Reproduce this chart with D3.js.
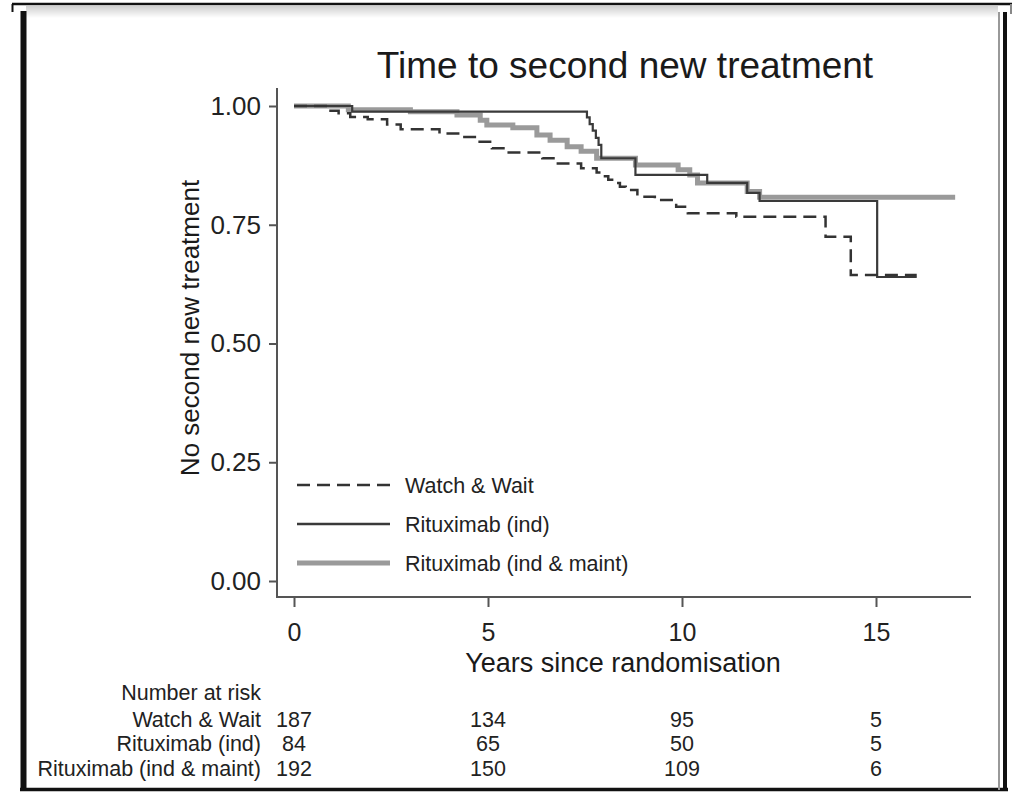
<!DOCTYPE html>
<html>
<head>
<meta charset="utf-8">
<script src="https://cdn.jsdelivr.net/npm/d3@7"></script>
<style>
  html, body { margin: 0; padding: 0; background: #fff; }
  svg { display: block; font-family: "Liberation Sans", Arial, sans-serif; }
</style>
</head>
<body>
<svg id="chart" width="1015" height="794"></svg>
<script>
// Kaplan-Meier step data (time in years, proportion without second new treatment)
const wwTime = [0, 0.9, 1.15, 1.45, 1.9, 2.4, 2.75, 3.75, 4.3, 4.75, 5.1, 5.5, 6.4, 6.8, 7.4, 7.8, 7.95, 8.1, 8.25, 8.4, 8.55, 8.85, 9.3, 9.85, 10.15, 11.4, 13.7, 14.35, 16.05];
const wwSurv = [1, 0.99, 0.985, 0.977, 0.972, 0.961, 0.951, 0.942, 0.935, 0.925, 0.911, 0.902, 0.89, 0.879, 0.869, 0.86, 0.852, 0.845, 0.838, 0.83, 0.823, 0.809, 0.802, 0.788, 0.774, 0.767, 0.725, 0.644, 0.644];

const indTime = [0, 1.5, 7.55, 7.62, 7.7, 7.78, 7.85, 7.92, 8.8, 10.65, 11.68, 12.0, 15.03, 16.05];
const indSurv = [1, 0.988, 0.976, 0.962, 0.948, 0.933, 0.918, 0.89, 0.855, 0.838, 0.817, 0.8, 0.64, 0.64];

const maintTime = [0, 1.4, 3.0, 4.2, 4.8, 4.97, 5.64, 6.26, 6.6, 7.04, 7.4, 7.8, 8.8, 9.9, 10.2, 10.4, 11.68, 12.0, 17.04];
const maintSurv = [1, 0.992, 0.988, 0.981, 0.97, 0.96, 0.954, 0.939, 0.928, 0.914, 0.905, 0.89, 0.876, 0.866, 0.855, 0.838, 0.82, 0.808, 0.808];

const groupNames = ["Watch & Wait", "Rituximab (ind)", "Rituximab (ind & maint)"];
const xTicks = [0, 5, 10, 15];
const yTicks = [0, 0.25, 0.5, 0.75, 1];
const riskTimes = [0, 5, 10, 15];
const riskWW = [187, 134, 95, 5];
const riskInd = [84, 65, 50, 5];
const riskMaint = [192, 150, 109, 6];

const svg = d3.select("#chart");

// ---- outer frame ----
const frame = svg.append("g");
const defs = svg.append("defs");
const grad = defs.append("linearGradient").attr("id", "topShade").attr("x1", 0).attr("y1", 0).attr("x2", 0).attr("y2", 1);
grad.append("stop").attr("offset", "0%").attr("stop-color", "#cfcfcf");
grad.append("stop").attr("offset", "100%").attr("stop-color", "#ffffff");
frame.append("rect").attr("x", 26).attr("y", 6).attr("width", 972).attr("height", 12).attr("fill", "url(#topShade)");
frame.append("line").attr("x1", 12).attr("x2", 1012).attr("y1", 4).attr("y2", 4).attr("stroke", "#111").attr("stroke-width", 2.5);
frame.append("line").attr("x1", 12.5).attr("x2", 12.5).attr("y1", 4).attr("y2", 12).attr("stroke", "#111").attr("stroke-width", 2);
frame.append("line").attr("x1", 1011).attr("x2", 1011).attr("y1", 4).attr("y2", 14).attr("stroke", "#888").attr("stroke-width", 2);
frame.append("line").attr("x1", 23.5).attr("x2", 23.5).attr("y1", 11).attr("y2", 791).attr("stroke", "#111").attr("stroke-width", 6);
frame.append("line").attr("x1", 20).attr("x2", 1008).attr("y1", 789.5).attr("y2", 789.5).attr("stroke", "#111").attr("stroke-width", 3.5);
frame.append("line").attr("x1", 999).attr("x2", 999).attr("y1", 12).attr("y2", 790).attr("stroke", "#999").attr("stroke-width", 2);
frame.append("line").attr("x1", 1005).attr("x2", 1005).attr("y1", 12).attr("y2", 791).attr("stroke", "#111").attr("stroke-width", 4);

// ---- scales ----
const x = d3.scaleLinear().domain([0, 15]).range([294, 876]);
const y = d3.scaleLinear().domain([0, 1]).range([581, 106]);

// ---- title ----
svg.append("text").attr("x", 625).attr("y", 78).attr("text-anchor", "middle")
  .attr("font-size", 37).attr("fill", "#1a1a1a").text("Time to second new treatment");

// ---- axes ----
const axisColor = "#555";
const yAxis = svg.append("g").attr("transform", "translate(277,0)")
  .call(d3.axisLeft(y).tickValues(yTicks).tickFormat(d3.format(".2f")).tickSize(8).tickPadding(8).tickSizeOuter(0));
yAxis.select(".domain").remove();
yAxis.selectAll(".tick line").attr("stroke", axisColor).attr("stroke-width", 2);
yAxis.selectAll(".tick text").attr("font-size", 26).attr("fill", "#222").attr("font-family", "Liberation Sans, Arial, sans-serif");

const xAxis = svg.append("g").attr("transform", "translate(0,598)")
  .call(d3.axisBottom(x).tickValues(xTicks).tickSize(9).tickPadding(16).tickSizeOuter(0));
xAxis.select(".domain").remove();
xAxis.selectAll(".tick line").attr("stroke", axisColor).attr("stroke-width", 2);
xAxis.selectAll(".tick text").attr("font-size", 25).attr("fill", "#222").attr("font-family", "Liberation Sans, Arial, sans-serif");

// axis lines (extend beyond tick range)
svg.append("line").attr("x1", 277).attr("x2", 277).attr("y1", 88).attr("y2", 598).attr("stroke", axisColor).attr("stroke-width", 2);
svg.append("line").attr("x1", 276).attr("x2", 971).attr("y1", 597).attr("y2", 597).attr("stroke", axisColor).attr("stroke-width", 2);

// axis titles
svg.append("text").attr("transform", "translate(199,328) rotate(-90)").attr("text-anchor", "middle")
  .attr("font-size", 26).attr("fill", "#1a1a1a").text("No second new treatment");
svg.append("text").attr("x", 623).attr("y", 672).attr("text-anchor", "middle")
  .attr("font-size", 27).attr("fill", "#1a1a1a").text("Years since randomisation");

// ---- survival curves ----
const styles = [
  { color: "#333", width: 2.5, dash: "13,7" },
  { color: "#3a3a3a", width: 2.2, dash: null },
  { color: "#9a9a9a", width: 5, dash: null }
];
const series = [
  { t: wwTime, s: wwSurv, style: styles[0] },
  { t: indTime, s: indSurv, style: styles[1] },
  { t: maintTime, s: maintSurv, style: styles[2] }
];
const line = d3.line().x(d => x(d[0])).y(d => y(d[1])).curve(d3.curveStepAfter);
const curves = svg.append("g");
[2, 1, 0].forEach(i => {
  const sr = series[i];
  const pts = sr.t.map((t, k) => [t, sr.s[k]]);
  const p = curves.append("path").datum(pts).attr("d", line)
    .attr("fill", "none").attr("stroke", sr.style.color).attr("stroke-width", sr.style.width)
    .attr("stroke-linejoin", "miter");
  if (sr.style.dash) p.attr("stroke-dasharray", sr.style.dash);
});

// ---- legend ----
const legendY = [485, 524, 563];
const legend = svg.append("g");
groupNames.forEach((name, i) => {
  const st = styles[i];
  const l = legend.append("line").attr("x1", 297).attr("x2", 390).attr("y1", legendY[i]).attr("y2", legendY[i])
    .attr("stroke", st.color).attr("stroke-width", i === 2 ? 5 : 2.5);
  if (st.dash) l.attr("stroke-dasharray", st.dash);
  legend.append("text").attr("x", 405).attr("y", legendY[i] + 8).attr("font-size", 21.5)
    .attr("fill", "#222").text(name);
});

// ---- number at risk table ----
const risk = svg.append("g").attr("font-size", 21.5).attr("fill", "#222");
risk.append("text").attr("x", 261).attr("y", 700).attr("text-anchor", "end").text("Number at risk");
const rowY = [727, 751, 776];
const rowVals = [riskWW, riskInd, riskMaint];
groupNames.forEach((name, i) => {
  risk.append("text").attr("x", 261).attr("y", rowY[i]).attr("text-anchor", "end").text(name);
  riskTimes.forEach((t, k) => {
    risk.append("text").attr("x", x(t)).attr("y", rowY[i]).attr("text-anchor", "middle").text(rowVals[i][k]);
  });
});
</script>
</body>
</html>
